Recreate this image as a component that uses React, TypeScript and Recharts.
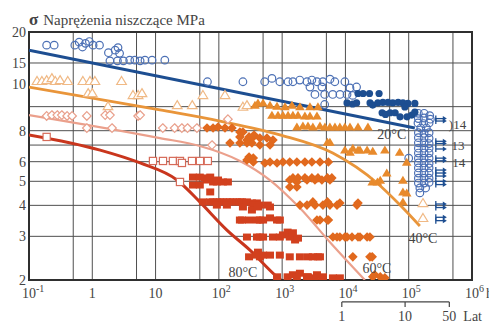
import React from 'react';
import {
  ComposedChart, Scatter, Line, XAxis, YAxis, CartesianGrid,
  ReferenceLine, ReferenceDot, ReferenceArea,
} from 'recharts';

const FONT = '"Liberation Serif", "Times New Roman", "DejaVu Serif", serif';

// ---------- axes ----------
const hourTicks = [0.1, 1, 10, 100, 1e3, 1e4, 1e5, 1e6];
const hourTickBase = ['10', '1', '10', '10', '10', '10', '10', '10'];
const hourTickExp = ['-1', '', '', '2', '3', '4', '5', '6'];
const hourUnit = 'h';
const hourGrid = [0.1, 0.5, 1, 5, 10, 50, 100, 500, 1e3, 5e3, 1e4, 5e4, 1e5, 5e5, 1e6];
const mpaTicks = [2, 3, 4, 5, 6, 7, 8, 10, 15, 20];
const mpaLabels = ['2', '3', '4', '5', '6', '', '8', '10', '15', '20'];
const yearTicks = [1, 10, 50];
const yearUnit = 'Lat';
const HOURS_PER_YEAR = 8766;
const yearBracketLevel = 1.631; // MPa level (below the axis) on which the year bracket sits
const title = 'Naprężenia niszczące MPa';

// ---------- fitted curves (hours, MPa) ----------
const line20C = [[0.1, 16.9], [1.25e5, 8.2]];
const line40C = [[0.1, 12.0], [11.7, 9.7], [104, 8.75], [920, 7.7], [6300, 6.5], [31600, 4.92], [72900, 4.01], [150000, 3.3]];
const line60C = [[0.1, 9.25], [11.7, 7.47], [50, 6.94], [215, 6.04], [640, 5.06], [1910, 3.9], [5700, 2.84], [20300, 2.0]];
const line80C = [[0.1, 7.69], [1.33, 6.68], [5.7, 5.93], [21.8, 5.06], [50, 4.13], [134, 3.18], [310, 2.64], [830, 2.06], [955, 2.0]];

// ---------- measured points (hours, MPa) ----------
const blueOpen = [
  [0.19, 17.7], [0.25, 17.7],
  [0.53, 17.7], [0.62, 18.2], [0.7, 17.4], [0.78, 18.0], [0.9, 18.3], [1.03, 17.7], [1.3, 17.7],
  [1.8, 16.5], [2.3, 16.9], [2.7, 16.4], [2.55, 17.3],
  [1.9, 15.3], [2.5, 15.3], [3.1, 15.3], [3.9, 15.4], [4.7, 15.4], [5.7, 15.3], [6.8, 15.4], [8.8, 15.4], [14, 15.4],
  [66, 12.6], [240, 12.6],
  [530, 12.6], [690, 13.0], [920, 12.6], [1240, 12.6], [1480, 12.6], [1900, 12.8], [2470, 12.6], [2950, 12.8],
  [3550, 12.6], [4400, 12.6], [5700, 12.9], [6800, 12.6], [9800, 12.6],
  [2750, 12.0], [4250, 12.0], [11800, 11.9], [15000, 12.0],
  [3300, 11.2], [4700, 11.2], [6300, 11.2], [8200, 11.2], [10600, 11.2], [13000, 11.1],
  [4700, 10.2], [1.0e5, 6.2],
  [1.42e5, 9.4], [1.75e5, 9.4], [2.15e5, 9.2],
  [1.42e5, 8.95], [1.75e5, 9.0], [2.2e5, 8.9],
  [1.4e5, 8.6], [1.72e5, 8.55], [2.1e5, 8.6],
  [1.55e5, 8.2], [1.9e5, 8.2],
  [1.42e5, 7.85], [1.75e5, 7.8], [2.1e5, 7.85],
  [1.42e5, 7.5], [1.75e5, 7.5], [2.1e5, 7.45],
  [1.42e5, 7.15], [1.75e5, 7.15], [2.1e5, 7.1],
  [1.42e5, 6.8], [1.75e5, 6.8], [2.1e5, 6.8],
  [1.42e5, 6.5], [1.75e5, 6.5], [2.1e5, 6.5],
  [1.42e5, 6.2], [1.75e5, 6.2], [2.1e5, 6.2],
  [1.42e5, 5.93], [1.75e5, 5.93], [2.1e5, 5.9],
  [1.42e5, 5.66], [1.75e5, 5.66], [2.1e5, 5.66],
  [1.42e5, 5.4], [1.75e5, 5.4], [2.1e5, 5.4],
  [1.42e5, 5.15], [1.75e5, 5.15], [2.1e5, 5.15],
  [1.42e5, 4.92], [1.75e5, 4.92], [2.1e5, 4.95],
  [1.5e5, 4.7], [1.85e5, 4.7], [1.5e5, 4.49],
];
const blueFilled = [
  [1.58e4, 11.3], [1.9e4, 11.3], [2.4e4, 11.3], [3.4e4, 11.3],
  [1.06e4, 10.35], [1.3e4, 10.25], [1.5e4, 10.35], [2.45e4, 10.35], [2.7e4, 10.15], [3.25e4, 10.35], [3.9e4, 10.4],
  [4.7e4, 10.4], [5.6e4, 10.35], [6.8e4, 10.4], [8.1e4, 10.35], [9.7e4, 10.3], [1.25e5, 10.3],
  [3.8e4, 9.45], [4.3e4, 9.3], [5.1e4, 9.45], [6.1e4, 9.45], [7.3e4, 9.1], [8.7e4, 9.97], [9.4e4, 9.1], [1.12e5, 9.25], [1.25e5, 9.5],
];
const blueRunouts = [
  [3.1e5, 8.95], [3.1e5, 8.75], [3.1e5, 7.25], [3.1e5, 7.1], [3.1e5, 6.75], [3.1e5, 6.2], [3.1e5, 6.05],
  [3.1e5, 5.55], [3.1e5, 5.4], [3.1e5, 5.25], [3.1e5, 5.0], [3.1e5, 4.85], [3.1e5, 4.05], [3.1e5, 3.92],
  [3.1e5, 3.58], [3.1e5, 3.47],
];
const orangeOpenTri = [
  [0.134, 12.7], [0.16, 12.7], [0.19, 12.8], [0.23, 13.05], [0.26, 12.7], [0.31, 12.8], [0.41, 12.7],
  [0.71, 12.7], [0.92, 12.7], [1.1, 12.7], [2.9, 12.7],
  [0.86, 11.35], [1.0, 11.35], [4.4, 11.15], [5.3, 11.15], [6.1, 11.35],
  [1.77, 10.05], [22, 10.15], [38, 10.15], [56, 11.15], [125, 11.15], [240, 10.0], [278, 10.15],
  [1.68e5, 4.09], [1.68e5, 3.56],
];
const orangeFilledTri = [
  [372, 10.15], [415, 10.35], [500, 10.35], [643, 10.15], [830, 10.05], [1110, 10.0], [1430, 10.15], [1910, 10.0], [2750, 10.0], [3680, 10.0],
  [690, 9.25], [860, 9.25], [1030, 9.25], [1240, 9.25], [1480, 9.25], [1780, 9.25], [2290, 9.17], [2750, 9.17], [3550, 9.17],
  [1710, 8.28], [2130, 8.36], [2560, 8.36], [3060, 8.28], [3960, 8.36], [4740, 8.28], [5690, 8.28], [6830, 8.28],
  [8170, 8.28], [9800, 8.28], [11800, 8.28], [15800, 8.28], [22700, 8.28],
  [5200, 7.2], [5690, 7.2],
  [9800, 6.69], [11800, 6.56], [13100, 6.81], [15800, 6.69], [17000, 6.69], [22000, 6.69], [27000, 6.62], [42000, 6.69], [72000, 6.56],
  [93000, 5.98],
  [26500, 4.97], [32000, 4.97], [35500, 5.06], [45000, 5.4], [81000, 5.06], [81000, 4.53], [93000, 4.49], [81000, 4.13],
];
const salmonOpenDiamond = [
  [0.19, 9.17], [0.23, 9.25], [0.28, 9.25], [0.33, 9.25], [0.4, 9.17], [0.48, 9.17], [0.82, 9.17], [1.6, 9.25], [1.9, 9.25], [5.3, 9.17], [5.7, 9.25],
  [0.82, 8.2], [2.05, 8.2], [13, 8.2], [20, 8.2], [26, 8.2], [32, 8.2], [45, 8.2],
  [139, 8.9], [78, 7.0],
];
const orangeFilledDiamond = [
  [65, 8.2], [81, 8.2], [97, 8.28], [125, 8.2], [161, 8.2], [215, 7.9], [240, 7.9],
  [150, 7.14], [215, 7.14], [278, 7.14], [333, 7.14], [445, 7.0], [643, 7.0],
  [215, 7.55], [278, 7.34], [300, 7.55], [350, 7.55], [360, 7.69], [445, 7.48], [575, 7.48], [716, 7.34],
  [300, 6.27], [350, 6.21],
  [278, 6.09], [350, 5.98], [534, 5.93], [643, 5.98], [830, 5.93], [1030, 5.98], [1320, 5.98], [1710, 5.98], [2290, 5.98], [2950, 5.98], [3960, 5.98], [5380, 5.98],
  [1320, 5.06], [1480, 5.16], [1710, 4.97], [1780, 5.16], [2290, 5.16], [2470, 5.06], [2950, 5.16], [3300, 5.06], [3680, 5.16], [4250, 5.06], [5200, 5.16], [5690, 5.06], [6100, 5.16],
  [1320, 4.74], [1710, 4.74],
  [1910, 4.01], [2470, 4.01], [3060, 4.13], [3300, 4.01], [4410, 4.01], [5200, 4.13], [5690, 4.01], [7360, 4.01], [8170, 4.09], [15200, 4.01], [15800, 4.09],
  [3550, 3.49], [3960, 3.49], [5200, 3.49], [5380, 3.49],
  [6350, 2.98], [7360, 2.98], [8170, 2.98], [9800, 2.98], [10600, 2.98], [12700, 2.98], [15800, 2.98], [17000, 2.98], [22000, 2.98], [24400, 2.98],
  [13100, 2.48], [24400, 2.48], [26500, 2.48],
  [27000, 2.06], [29000, 2.1], [35500, 2.06], [42000, 2.04],
];
const redOpenSquare = [
  [0.19, 7.55], [9.1, 6.04], [13.1, 6.04], [18.8, 6.04], [24.3, 6.04], [26.1, 5.93], [37.6, 6.04], [50.3, 6.04], [67, 6.04], [24.3, 4.97],
];
const redFilledSquare = [
  [39, 5.2], [50, 5.2], [60, 5.16], [65, 5.06], [73, 5.2], [81, 4.97], [93, 4.97], [97, 5.06], [116, 4.97], [139, 4.97],
  [39, 4.83], [50, 4.83], [73, 4.53],
  [56, 4.13], [73, 4.13], [81, 4.13], [93, 4.13], [104, 4.13], [116, 4.13], [134, 4.13], [150, 4.13], [167, 4.13], [193, 4.13],
  [215, 4.13], [232, 4.13], [278, 4.13], [333, 4.09], [400, 4.09], [93, 4.01], [134, 4.01], [350, 4.01], [445, 4.01], [593, 4.01],
  [240, 3.94], [333, 3.83], [415, 3.94], [643, 3.94],
  [215, 3.49], [232, 3.49], [300, 3.49], [400, 3.49], [445, 3.49], [500, 3.49], [643, 3.56], [830, 3.49], [920, 3.49],
  [278, 2.98], [400, 2.98], [445, 2.98], [500, 2.98], [716, 2.98], [920, 2.98], [1030, 3.04], [1220, 3.12], [1320, 2.98], [1480, 3.1], [1600, 2.9], [1780, 2.95],
  [300, 2.48], [400, 2.52], [415, 2.59], [445, 2.48], [500, 2.52], [643, 2.52], [920, 2.52], [1320, 2.48], [1910, 2.48], [2560, 2.48], [3060, 2.48], [3680, 2.48], [3960, 2.48],
  [830, 2.06], [1220, 2.06], [1480, 2.1], [1710, 2.06], [1910, 2.13], [2470, 2.06], [2560, 2.06], [3300, 2.04], [3550, 2.1], [4410, 2.06], [6350, 2.04], [8170, 2.04],
];

// ---------- annotations ----------
const annotText = ['20°C', '40°C', '60°C', '80°C', ')14', '13', '14'];
const annotX = [5.4e4, 1.68e5, 3.15e4, 240, 5.9e5, 6.0e5, 6.2e5];
const annotY = [7.76, 2.95, 2.24, 2.15, 8.5, 6.95, 5.98];
const annotSize = [14, 14, 14, 14, 13, 13, 13];

const C = {
  blue: '#1D4E91', blueOpen: '#4C70B5', orangeLine: '#E9953A', orangeTri: '#E88A2C', peach: '#F0B985',
  salmonLine: '#EBA08C', diamond: '#E1691E', salmonOpen: '#E9A08C', redLine: '#C9361D', redSq: '#D2401E',
  redOpen: '#D66A58', grid: '#4f4f4f', frame: '#2f2f2f', text: '#444',
};

const pts = (a: number[][]) => a.map(([x, y]) => ({ x, y }));
const yearHours = yearTicks.map((t) => t * HOURS_PER_YEAR);
const axisTicks = [...hourTicks, ...yearHours];

// ---------- shapes ----------
const openCircle = (p: any) => <circle cx={p.cx} cy={p.cy} r={3.8} fill="none" stroke={C.blueOpen} strokeWidth={1.2} />;
const filledCircle = (p: any) => <circle cx={p.cx} cy={p.cy} r={3.6} fill={C.blue} />;
const triPath = (cx: number, cy: number) => `M${cx},${cy - 4.4}L${cx + 4.8},${cy + 3.6}L${cx - 4.8},${cy + 3.6}Z`;
const openTri = (p: any) => <path d={triPath(p.cx, p.cy)} fill="#fff" stroke={C.peach} strokeWidth={1.2} />;
const filledTri = (p: any) => <path d={triPath(p.cx, p.cy)} fill={C.orangeTri} />;
const diaPath = (cx: number, cy: number, s: number) => `M${cx},${cy - s}L${cx + s},${cy}L${cx},${cy + s}L${cx - s},${cy}Z`;
const openDia = (p: any) => <path d={diaPath(p.cx, p.cy, 4.3)} fill="#fff" stroke={C.salmonOpen} strokeWidth={1.2} />;
const filledDia = (p: any) => <path d={diaPath(p.cx, p.cy, 4.8)} fill={C.diamond} />;
const openSq = (p: any) => <rect x={p.cx - 3.6} y={p.cy - 3.6} width={7.2} height={7.2} fill="#fff" stroke={C.redOpen} strokeWidth={1.2} />;
const filledSq = (p: any) => <rect x={p.cx - 4} y={p.cy - 3.5} width={8} height={7} fill={C.redSq} />;
const runout = (p: any) => (
  <g stroke={C.blue} strokeWidth={1.3} fill={C.blue}>
    <line x1={p.cx - 4} y1={p.cy - 3} x2={p.cx - 4} y2={p.cy + 3} />
    <line x1={p.cx - 4} y1={p.cy} x2={p.cx + 4} y2={p.cy} />
    <path d={`M${p.cx + 7},${p.cy}L${p.cx + 3},${p.cy - 2.5}L${p.cx + 3},${p.cy + 2.5}Z`} stroke="none" />
  </g>
);

// ---------- ticks ----------
const HourTick = (props: any) => {
  const { x, y, payload } = props;
  const v = payload.value;
  const yi = yearHours.findIndex((h) => Math.abs(h - v) / h < 1e-6);
  if (yi >= 0) {
    const last = yi === yearTicks.length - 1;
    return (
      <g fontFamily={FONT} fill={C.text}>
        <line x1={x} y1={y + 22} x2={x} y2={y + 27} stroke={C.text} strokeWidth={1.2} />
        <text x={x} y={y + 41} textAnchor="middle" fontSize={14}>{yearTicks[yi]}</text>
        {last && <text x={x + 14} y={y + 41} textAnchor="start" fontSize={14}>{yearUnit}</text>}
      </g>
    );
  }
  const i = hourTicks.findIndex((h) => Math.abs(h - v) / h < 1e-6);
  if (i < 0) return <g />;
  const base = hourTickBase[i];
  const exp = hourTickExp[i];
  const last = i === hourTicks.length - 1;
  return (
    <g fontFamily={FONT} fill={C.text}>
      <text x={x} y={y + 18} textAnchor="middle" fontSize={14}>{base}</text>
      {exp && <text x={x + 7} y={y + 12} textAnchor="start" fontSize={10}>{exp}</text>}
      {last && <text x={x + 14} y={y + 18} textAnchor="start" fontSize={14}>{hourUnit}</text>}
    </g>
  );
};

const MpaTick = (props: any) => {
  const { x, y, payload } = props;
  const i = mpaTicks.indexOf(payload.value);
  const label = i >= 0 ? mpaLabels[i] : '';
  if (!label) return <g />;
  const shift = payload.value === 10 ? -23 : 0;
  return (
    <text x={x} y={y + shift + 5} textAnchor="end" fontSize={14} fontFamily={FONT} fill={C.text}>{label}</text>
  );
};

const annotLabel = (text: string, size: number) => (p: any) => {
  const vb = p.viewBox || {};
  const cx = (vb.x || 0) + (vb.width || 0) / 2;
  const cy = (vb.y || 0) + (vb.height || 0) / 2;
  return (
    <text x={cx} y={cy + size * 0.35} textAnchor="middle" fontSize={size} fontFamily={FONT} fill={C.text}>{text}</text>
  );
};

export default function App() {
  return (
    <div style={{ position: 'relative', width: 489, height: 315, background: '#fff' }}>
      <div
        style={{
          position: 'absolute', left: 21, top: 3, fontFamily: FONT, fontSize: 15, lineHeight: '18px',
          color: C.text, whiteSpace: 'nowrap',
        }}
      >
        <span style={{ fontSize: 17, fontWeight: 'bold', marginRight: 5 }}>σ</span>
        {title}
      </div>
      <ComposedChart width={489} height={315} margin={{ top: 24, right: 25, bottom: 0, left: 0 }}>
        <XAxis
          xAxisId="h" dataKey="x" type="number" scale="log" domain={[0.1, 1e6]} allowDataOverflow
          ticks={axisTicks} interval={0} tickLine={false} axisLine={false} tickSize={0} tickMargin={0}
          height={43} tick={HourTick}
        />
        <XAxis
          xAxisId="hgrid" dataKey="x" type="number" scale="log" domain={[0.1, 1e6]} allowDataOverflow
          ticks={hourGrid} interval={0} hide height={0}
        />
        <YAxis
          yAxisId="mpa" dataKey="y" type="number" scale="log" domain={[2, 20]} allowDataOverflow
          ticks={mpaTicks} interval={0} tickLine={false} axisLine={false} tickSize={0} tickMargin={3}
          width={21} tick={MpaTick}
        />
        <CartesianGrid xAxisId="hgrid" yAxisId="mpa" stroke={C.grid} strokeWidth={1} />

        <Scatter xAxisId="h" yAxisId="mpa" data={pts(blueOpen)} shape={openCircle} isAnimationActive={false} />
        <Scatter xAxisId="h" yAxisId="mpa" data={pts(blueFilled)} shape={filledCircle} isAnimationActive={false} />
        <Scatter xAxisId="h" yAxisId="mpa" data={pts(blueRunouts)} shape={runout} isAnimationActive={false} />
        <Scatter xAxisId="h" yAxisId="mpa" data={pts(orangeOpenTri)} shape={openTri} isAnimationActive={false} />
        <Scatter xAxisId="h" yAxisId="mpa" data={pts(orangeFilledTri)} shape={filledTri} isAnimationActive={false} />
        <Scatter xAxisId="h" yAxisId="mpa" data={pts(salmonOpenDiamond)} shape={openDia} isAnimationActive={false} />
        <Scatter xAxisId="h" yAxisId="mpa" data={pts(orangeFilledDiamond)} shape={filledDia} isAnimationActive={false} />
        <Scatter xAxisId="h" yAxisId="mpa" data={pts(redOpenSquare)} shape={openSq} isAnimationActive={false} />
        <Scatter xAxisId="h" yAxisId="mpa" data={pts(redFilledSquare)} shape={filledSq} isAnimationActive={false} />

        <Line xAxisId="h" yAxisId="mpa" data={pts(line80C)} dataKey="y" type="monotone" stroke={C.redLine} strokeWidth={3} dot={false} isAnimationActive={false} />
        <Line xAxisId="h" yAxisId="mpa" data={pts(line60C)} dataKey="y" type="monotone" stroke={C.salmonLine} strokeWidth={2.2} dot={false} isAnimationActive={false} />
        <Line xAxisId="h" yAxisId="mpa" data={pts(line40C)} dataKey="y" type="monotone" stroke={C.orangeLine} strokeWidth={2.8} dot={false} isAnimationActive={false} />
        <Line xAxisId="h" yAxisId="mpa" data={pts(line20C)} dataKey="y" type="linear" stroke={C.blue} strokeWidth={3} dot={false} isAnimationActive={false} />

        <ReferenceArea xAxisId="h" yAxisId="mpa" x1={0.1} x2={1e6} y1={2} y2={20} fill="none" stroke={C.frame} strokeWidth={2} />
        <ReferenceLine
          xAxisId="h" yAxisId="mpa" ifOverflow="visible" stroke={C.text} strokeWidth={1.2}
          segment={[{ x: yearHours[0], y: yearBracketLevel }, { x: yearHours[yearHours.length - 1], y: yearBracketLevel }]}
        />
        {annotText.map((t, i) => (
          <ReferenceDot
            key={i} xAxisId="h" yAxisId="mpa" x={annotX[i]} y={annotY[i]} r={0}
            fill="none" stroke="none" label={annotLabel(t, annotSize[i])}
          />
        ))}
      </ComposedChart>
    </div>
  );
}
